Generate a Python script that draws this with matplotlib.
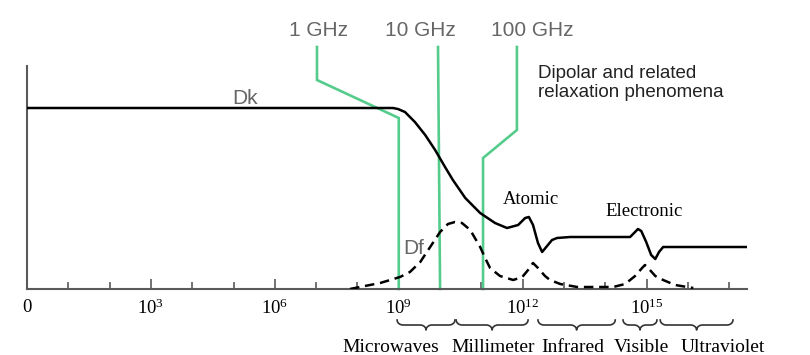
import numpy as np
import matplotlib
matplotlib.use("Agg")
import matplotlib.pyplot as plt

plt.rcParams['mathtext.fontset'] = 'custom'
plt.rcParams['mathtext.rm'] = 'Liberation Serif'

# ---- data (x in log10(frequency) decades, y in relative units) ----
dk_x = [0, 8.55, 8.86, 8.98, 9.15, 9.39, 9.64, 9.88, 10.12, 10.31, 10.61, 10.97,
        11.33, 11.62, 11.89, 12.06, 12.15, 12.25, 12.37, 12.47, 12.59, 12.71,
        12.83, 13.15, 14.60, 14.72, 14.79, 14.87, 14.99, 15.11, 15.21, 15.30,
        15.40, 15.81, 17.43]
dk_y = [181, 181, 181, 180, 177, 167, 154, 139, 122, 109, 91, 76,
        66, 61, 64, 71, 72, 64, 46, 37, 43, 49,
        51, 52, 52, 57, 60, 58, 47, 34, 30, 37,
        42, 42, 42]

df_x = [7.82, 8.18, 8.55, 8.79, 9.03, 9.27, 9.52, 9.76, 10.0, 10.19, 10.36, 10.53,
        10.73, 10.97, 11.09, 11.21, 11.45, 11.77, 11.99, 12.13, 12.25, 12.37,
        12.54, 12.66, 12.91, 13.32, 14.19, 14.48, 14.72, 14.89, 14.96, 15.08,
        15.21, 15.40, 15.69, 16.13]
df_y = [0, 3, 6, 9, 12, 17, 27, 42, 57, 65, 67, 66,
        59, 42, 31, 21, 13, 9, 12, 19, 26, 21,
        13, 9, 5, 2, 2, 5, 13, 21, 24, 19,
        13, 9, 4, 1]

# green frequency marker polylines
ghz_labels = ['1 GHz', '10 GHz', '100 GHz']
ghz_x = [[7.02, 7.02, 9.0, 9.0], [9.95, 10.0], [11.86, 11.86, 11.04, 11.04]]
ghz_y = [[242, 209, 171, 0], [242, 0], [242, 159, 131, 0]]
ghz_label_x = [7.05, 9.52, 12.23]

tick_major = [0, 3, 6, 9, 12, 15]
tick_labels = ['0', r'$\mathregular{10^{3}}$', r'$\mathregular{10^{6}}$',
               r'$\mathregular{10^{9}}$', r'$\mathregular{10^{12}}$', r'$\mathregular{10^{15}}$']

bands = ['Microwaves', 'Millimeter', 'Infrared', 'Visible', 'Ultraviolet']
band_lo = [8.96, 10.39, 12.37, 14.43, 15.33]
band_hi = [10.36, 12.13, 14.24, 15.25, 17.09]
band_label_x = [8.81, 11.28, 13.22, 14.87, 16.85]

# ---- figure ----
W, H = 810, 355
fig = plt.figure(figsize=(W / 100, H / 100), dpi=100)
ax = fig.add_axes([27 / W, (H - 289) / H, (747 - 27) / W, (289 - 66) / H])
XMAX, YMAX = 17.43, 223
ax.set_xlim(0, XMAX)
ax.set_ylim(0, YMAX)
pxx = (747 - 27) / XMAX  # pixels per decade

for s in ['top', 'right']:
    ax.spines[s].set_visible(False)
for s in ['left', 'bottom']:
    ax.spines[s].set_color('#5a5a5a')
    ax.spines[s].set_linewidth(1.5)
ax.set_yticks([])
ax.set_xticks(tick_major)
ax.set_xticklabels(tick_labels, family='Liberation Serif', fontsize=13.5)
ax.set_xticks(range(0, 18), minor=True)
ax.tick_params(axis='x', which='major', direction='in', length=7, width=1.2,
               color='#5a5a5a', pad=7)
ax.tick_params(axis='x', which='minor', direction='in', length=5, width=1.2,
               color='#5a5a5a')

green = '#55cc8c'
for gx, gy in zip(ghz_x, ghz_y):
    ax.plot(gx, gy, color=green, lw=1.9, clip_on=False, zorder=2,
            solid_joinstyle='miter')

ax.plot(dk_x, dk_y, color='black', lw=1.8, zorder=3, solid_joinstyle='round')
ax.plot(df_x, df_y, color='black', lw=1.8, ls=(0, (3.8, 2.3)), zorder=3)

for lab, lx in zip(ghz_labels, ghz_label_x):
    ax.text(lx, 259, lab, ha='center', va='center', fontsize=15,
            family='Liberation Sans', color='#666666', clip_on=False)

ax.text(12.37, 224, 'Dipolar and related\nrelaxation phenomena', ha='left',
        va='top', fontsize=13.5, family='Liberation Sans', color='#222222',
        linespacing=1.15)
ax.text(5.28, 190, 'Dk', ha='center', va='center', fontsize=15,
        family='Liberation Sans', color='#666666')
ax.text(9.35, 40, 'Df', ha='center', va='center', fontsize=15,
        family='Liberation Sans', color='#666666')
ax.text(12.2, 90, 'Atomic', ha='center', va='center', fontsize=13.5,
        family='Liberation Serif', color='black')
ax.text(14.94, 77, 'Electronic', ha='center', va='center', fontsize=13.5,
        family='Liberation Serif', color='black')


def brace(x0, x1, ytop, ht, r_px=6):
    """curly brace (tip pointing down) from x0 to x1 in data; y in px units."""
    w = (x1 - x0) * pxx
    xm = w / 2
    r = min(r_px, w / 4)
    t = np.linspace(0, np.pi / 2, 12)
    h2 = ht / 2
    # left end: starts vertical, turns horizontal
    seg1x = r * (1 - np.cos(t))
    seg1y = -h2 * np.sin(t)
    # middle: starts horizontal, turns down to the tip
    seg2x = xm - r + r * np.sin(t)
    seg2y = -h2 - h2 * (1 - np.cos(t))
    xs = np.concatenate([seg1x, seg2x])
    ys = np.concatenate([seg1y, seg2y])
    xs_full = np.concatenate([xs, (w - xs)[::-1]])
    ys_full = np.concatenate([ys, ys[::-1]])
    return x0 + xs_full / pxx, ytop + ys_full


for lo, hi in zip(band_lo, band_hi):
    bx, by = brace(lo, hi, -31, 10)
    ax.plot(bx, by, color='#333333', lw=1.2, clip_on=False)

for lab, lx in zip(bands, band_label_x):
    ax.text(lx, -58, lab, ha='center', va='center', fontsize=14,
            family='Liberation Serif', color='black', clip_on=False)

fig.savefig('out.png', dpi=100)
